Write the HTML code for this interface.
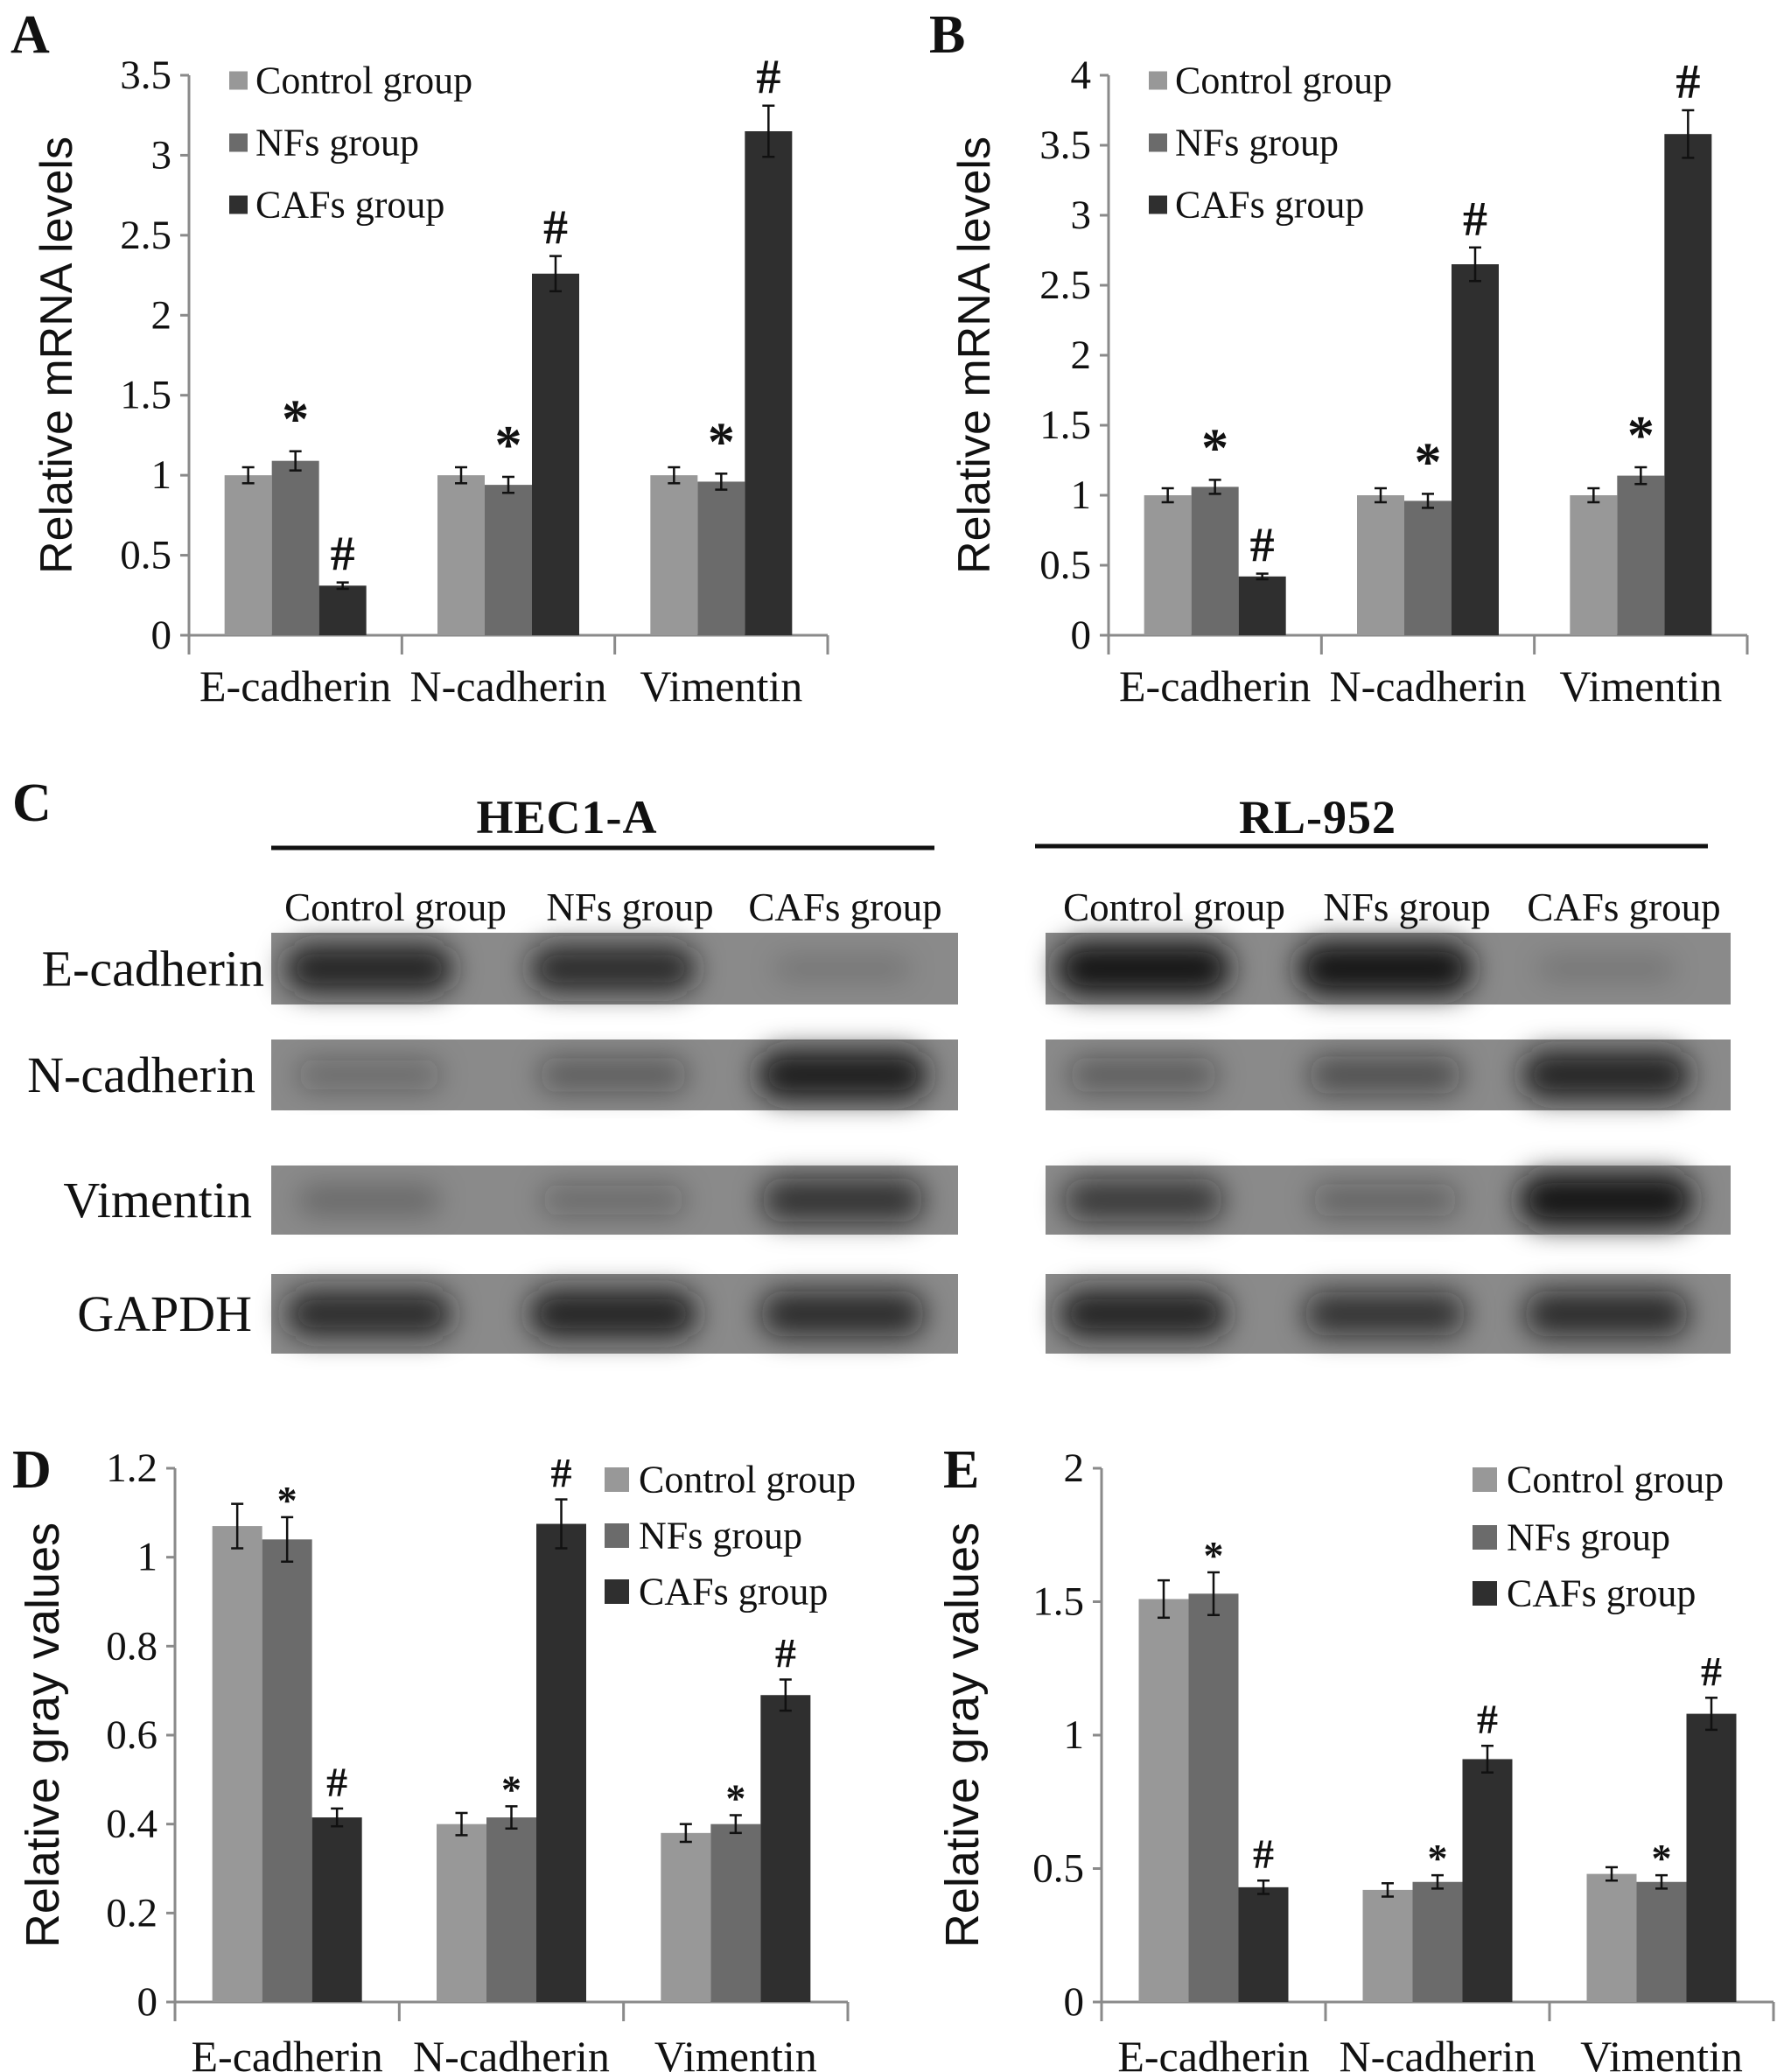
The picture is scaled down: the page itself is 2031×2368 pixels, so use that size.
<!DOCTYPE html>
<html><head><meta charset="utf-8">
<style>
html,body{margin:0;padding:0;background:#fff;}
svg{display:block;}
text{font-family:"Liberation Serif",serif;fill:#111;}
</style></head>
<body>
<svg id="fig" width="2031" height="2368" viewBox="0 0 2031 2368" xmlns="http://www.w3.org/2000/svg">
<defs>
<filter id="blur" x="-50%" y="-80%" width="200%" height="260%"><feGaussianBlur stdDeviation="16"/></filter>
</defs>
<text x="12" y="60" font-size="62" font-weight="bold">A</text>
<text x="1062" y="60" font-size="62" font-weight="bold">B</text>
<text x="14" y="938" font-size="62" font-weight="bold">C</text>
<text x="14" y="1700" font-size="62" font-weight="bold">D</text>
<text x="1078" y="1700" font-size="62" font-weight="bold">E</text>
<g id="blot"></g>
</svg>
<script>
const NS="http://www.w3.org/2000/svg";
const svg=document.getElementById('fig');
function mk(tag,attrs,parent){const e=document.createElementNS(NS,tag);for(const k in attrs)e.setAttribute(k,attrs[k]);(parent||svg).appendChild(e);return e;}

// ---- Chart data ----
const categories=["E-cadherin","N-cadherin","Vimentin"];
const seriesNames=["Control group","NFs group","CAFs group"];
// Panel A
const aControl=[1.0,1.0,1.0];
const aNFs=[1.09,0.94,0.96];
const aCAFs=[0.31,2.26,3.15];
const aErrControl=[0.05,0.05,0.05];
const aErrNFs=[0.06,0.05,0.05];
const aErrCAFs=[0.02,0.11,0.16];
const aTicks=["0","0.5","1","1.5","2","2.5","3","3.5"];
// Panel B
const bControl=[1.0,1.0,1.0];
const bNFs=[1.06,0.96,1.14];
const bCAFs=[0.42,2.65,3.58];
const bErrControl=[0.05,0.05,0.05];
const bErrNFs=[0.05,0.05,0.06];
const bErrCAFs=[0.02,0.12,0.17];
const bTicks=["0","0.5","1","1.5","2","2.5","3","3.5","4"];
// Panel D
const dControl=[1.07,0.40,0.38];
const dNFs=[1.04,0.415,0.40];
const dCAFs=[0.415,1.075,0.69];
const dErrControl=[0.05,0.025,0.02];
const dErrNFs=[0.05,0.025,0.02];
const dErrCAFs=[0.02,0.055,0.035];
const dTicks=["0","0.2","0.4","0.6","0.8","1","1.2"];
// Panel E
const eControl=[1.51,0.42,0.48];
const eNFs=[1.53,0.45,0.45];
const eCAFs=[0.43,0.91,1.08];
const eErrControl=[0.07,0.025,0.025];
const eErrNFs=[0.08,0.025,0.025];
const eErrCAFs=[0.025,0.05,0.06];
const eTicks=["0","0.5","1","1.5","2"];
// Western blot band intensities (0..1): rows E-cad, N-cad, Vimentin, GAPDH
const blotRows=["E-cadherin","N-cadherin","Vimentin","GAPDH"];
const hecBands=[[0.85,0.8,0.15],[0.3,0.4,0.9],[0.25,0.3,0.7],[0.8,0.85,0.75]];
const rlBands=[[1.0,1.0,0.15],[0.4,0.5,0.85],[0.65,0.35,1.0],[0.85,0.7,0.75]];

const colors=["#989898","#6b6b6b","#2f2f2f"];

function chart(id,cfg,vals,errs,ticks){
  const g=mk('g',{});
  
  
  const max=+ticks[ticks.length-1];
  const y=v=>cfg.y0-(v/max)*(cfg.y0-cfg.yTop);
  const cw=(cfg.x1-cfg.x0)/categories.length;
  const ya=mk('line',{x1:cfg.x0,y1:cfg.yTop,x2:cfg.x0,y2:cfg.y0,stroke:'#8a8a8a','stroke-width':3},g);
  
  
  const xa=mk('line',{x1:cfg.x0,y1:cfg.y0,x2:cfg.x1,y2:cfg.y0,stroke:'#8a8a8a','stroke-width':3},g);
  
  
  ticks.forEach(t=>{
    const yy=y(+t);
    mk('line',{x1:cfg.x0-10,y1:yy,x2:cfg.x0,y2:yy,stroke:'#8a8a8a','stroke-width':3},g);
    const tx=mk('text',{x:cfg.x0-20,y:yy,'font-size':47,'text-anchor':'end','dominant-baseline':'central'},g);
    tx.textContent=t;
    
    
  });
  for(let i=0;i<=categories.length;i++){
    const xx=cfg.x0+i*cw;
    mk('line',{x1:xx,y1:cfg.y0,x2:xx,y2:cfg.y0+22,stroke:'#8a8a8a','stroke-width':3},g);
  }
  categories.forEach((c,i)=>{
    const tx=mk('text',{x:cfg.x0+(i+0.5)*cw,y:cfg.xLabY,'font-size':50,'text-anchor':'middle','dominant-baseline':'central'},g);
    tx.textContent=c;
    
    
    const off=(cw-3*cfg.bw)/2;
    for(let s=0;s<3;s++){
      const v=vals[s][i],e=errs[s][i];
      const bx=cfg.x0+i*cw+off+s*cfg.bw;
      const r=mk('rect',{x:bx,y:y(v),width:cfg.bw,height:cfg.y0-y(v),fill:colors[s]},g);
      
      
      const cx=bx+cfg.bw/2;
      mk('line',{x1:cx,y1:y(v+e),x2:cx,y2:y(v-e),stroke:'#111','stroke-width':2.5},g);
      mk('line',{x1:cx-7,y1:y(v+e),x2:cx+7,y2:y(v+e),stroke:'#111','stroke-width':2.5},g);
      mk('line',{x1:cx-7,y1:y(v-e),x2:cx+7,y2:y(v-e),stroke:'#111','stroke-width':2.5},g);
      if(s>0){
        const mark=s===1?'*':'#';
        const fs=s===1?cfg.starSize:cfg.hashSize;
        const m=mk('text',{x:cx,y:y(v+e)-(s===1?cfg.starGap:cfg.hashGap),'font-size':fs,'text-anchor':'middle','font-weight':'bold'},g);
        m.textContent=mark;
        
        
      }
    }
  });
  const t=mk('text',{x:cfg.titleX,y:(cfg.y0+cfg.yTop)/2,'font-size':cfg.titleSize,'text-anchor':'middle','dominant-baseline':'central',transform:`rotate(-90 ${cfg.titleX} ${(cfg.y0+cfg.yTop)/2})`,style:'font-family:"Liberation Sans",sans-serif'},g);
  t.textContent=cfg.title;
  
  
  seriesNames.forEach((n,s)=>{
    const ry=cfg.legRows[s];
    const sq=mk('rect',{x:cfg.legX,y:ry-cfg.sq/2,width:cfg.sq,height:cfg.sq,fill:colors[s]},g);
    
    
    const lt=mk('text',{x:cfg.legTextX,y:ry,'font-size':44,'dominant-baseline':'central'},g);
    lt.textContent=n;
    
    
  });
}

chart('chart-a-mrna-hec1a',{x0:216,x1:946,y0:726,yTop:86,bw:54,xLabY:784,titleX:65,titleSize:52,title:'Relative mRNA levels',legX:262,legTextX:292,legRows:[92,163,234],sq:21,starSize:62,hashSize:56,starGap:16,hashGap:14},
  [aControl,aNFs,aCAFs],[aErrControl,aErrNFs,aErrCAFs],aTicks);
chart('chart-b-mrna-rl952',{x0:1267,x1:1997,y0:726,yTop:86,bw:54,xLabY:784,titleX:1114,titleSize:52,title:'Relative mRNA levels',legX:1313,legTextX:1343,legRows:[92,163,234],sq:21,starSize:62,hashSize:56,starGap:16,hashGap:14},
  [bControl,bNFs,bCAFs],[bErrControl,bErrNFs,bErrCAFs],bTicks);
chart('chart-d-gray-hec1a',{x0:200,x1:969,y0:2288,yTop:1678,bw:57,xLabY:2350,titleX:49,titleSize:54,title:'Relative gray values',legX:691,legTextX:730,legRows:[1691,1755,1819],sq:28,starSize:46,hashSize:48,starGap:4,hashGap:14},
  [dControl,dNFs,dCAFs],[dErrControl,dErrNFs,dErrCAFs],dTicks);
chart('chart-e-gray-rl952',{x0:1259,x1:2027,y0:2288,yTop:1678,bw:57,xLabY:2350,titleX:1100,titleSize:54,title:'Relative gray values',legX:1683,legTextX:1722,legRows:[1691,1757,1821],sq:28,starSize:46,hashSize:48,starGap:4,hashGap:14},
  [eControl,eNFs,eCAFs],[eErrControl,eErrNFs,eErrCAFs],eTicks);

// ---- Western blot ----
const blot=document.getElementById('blot');
function header(txt,cx,x1,x2,ly){
  const t=mk('text',{x:cx,y:934,'font-size':54,'font-weight':'bold','text-anchor':'middle','dominant-baseline':'central','letter-spacing':'1'},blot);
  t.textContent=txt;
  
  
  const l=mk('line',{x1:x1,y1:ly,x2:x2,y2:ly,stroke:'#111','stroke-width':5},blot);
  
  
}
header('HEC1-A',648,310,1068,969);
header('RL-952',1506,1183,1952,967);
const colLabels=[[452,'Control group'],[720,'NFs group'],[966,'CAFs group'],[1342,'Control group'],[1608,'NFs group'],[1856,'CAFs group']];
colLabels.forEach(([x,t])=>{
  const e=mk('text',{x:x,y:1037,'font-size':45,'text-anchor':'middle','dominant-baseline':'central'},blot);
  e.textContent=t;
  
  
});
const rowY=[[1066,1148],[1188,1269],[1332,1411],[1456,1547]];
const rowLabelX=[302,292,288,288];
const leftX=[321+101,596+105,858+105];
const rightX=[1212+95,1493+90,1736+100];
blotRows.forEach((name,r)=>{
  const [y1,y2]=rowY[r];
  const lab=mk('text',{x:rowLabelX[r],y:(y1+y2)/2,'font-size':58,'text-anchor':'end','dominant-baseline':'central'},blot);
  lab.textContent=name;
  
  
  [[310,1095,hecBands,leftX],[1195,1978,rlBands,rightX]].forEach(([bx1,bx2,bands,xs])=>{
    const bg=mk('rect',{x:bx1,y:y1,width:bx2-bx1,height:y2-y1,fill:'#8a8a8a'},blot);
    
    
    const cy=(y1+y2)/2;
    bands[r].forEach((inten,i)=>{
      const w=150+inten*50, h=24+inten*36;
      const b=mk('rect',{x:xs[i]-w/2,y:cy-h/2,width:w,height:h,rx:h/2,fill:'#141414','fill-opacity':Math.min(1,inten*1.05),filter:'url(#blur)'},blot);
      
      
    });
  });
});
</script>
</body></html>
